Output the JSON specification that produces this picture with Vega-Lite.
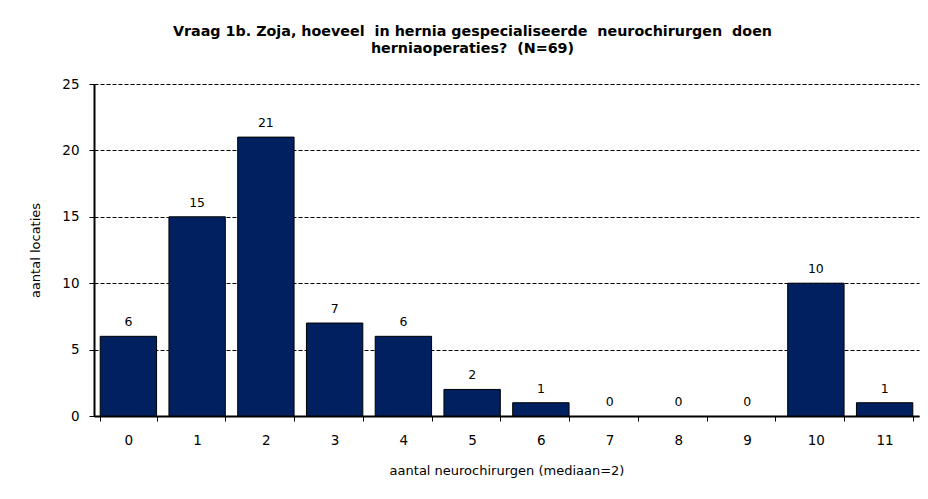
{
  "$schema": "https://vega.github.io/schema/vega-lite/v6.json",
  "width": 825,
  "height": 332,
  "autosize": {"type": "none"},
  "padding": {"left": 94, "top": 84, "right": 9, "bottom": 83},
  "background": "white",
  "title": {
    "text": ["Vraag 1b. Zoja, hoeveel \u00a0in hernia gespecialiseerde \u00a0neurochirurgen \u00a0doen", "herniaoperaties? \u00a0(N=69)"],
    "font": "DejaVu Sans",
    "fontSize": 14.3,
    "fontWeight": "bold",
    "color": "black",
    "lineHeight": 17,
    "anchor": "middle",
    "dx": -34,
    "offset": 21
  },
  "data": {
    "values": [
      {"n": "0", "count": 6},
      {"n": "1", "count": 15},
      {"n": "2", "count": 21},
      {"n": "3", "count": 7},
      {"n": "4", "count": 6},
      {"n": "5", "count": 2},
      {"n": "6", "count": 1},
      {"n": "7", "count": 0},
      {"n": "8", "count": 0},
      {"n": "9", "count": 0},
      {"n": "10", "count": 10},
      {"n": "11", "count": 1}
    ]
  },
  "encoding": {
    "x": {
      "field": "n",
      "type": "ordinal",
      "sort": null,
      "scale": {"paddingInner": 0.18, "paddingOuter": 0.09},
      "axis": {
        "title": "aantal neurochirurgen (mediaan=2)",
        "labelAngle": 0,
        "tickBand": "extent",
        "tickSize": 5,
        "tickColor": "black",
        "domainColor": "black",
        "domainWidth": 2,
        "labelPadding": 12,
        "labelFont": "DejaVu Sans",
        "labelFontSize": 13.5,
        "labelColor": "black",
        "titleFont": "DejaVu Sans",
        "titleFontSize": 13,
        "titleFontWeight": "normal",
        "titleColor": "black",
        "titlePadding": 18
      }
    },
    "y": {
      "field": "count",
      "type": "quantitative",
      "scale": {"domain": [0, 25]},
      "axis": {
        "title": "aantal locaties",
        "values": [0, 5, 10, 15, 20, 25],
        "grid": true,
        "gridColor": "black",
        "gridDash": [4, 2],
        "gridWidth": 1,
        "gridOpacity": 1,
        "tickSize": 5,
        "tickColor": "black",
        "domainColor": "black",
        "domainWidth": 2,
        "labelPadding": 10,
        "labelFont": "DejaVu Sans",
        "labelFontSize": 13.5,
        "labelColor": "black",
        "titleFont": "DejaVu Sans",
        "titleFontSize": 13,
        "titleFontWeight": "normal",
        "titleColor": "black",
        "titlePadding": 19
      }
    }
  },
  "layer": [
    {
      "mark": {"type": "bar", "color": "#002060", "stroke": "black"},
      "encoding": {
        "strokeWidth": {"condition": {"test": "datum.count === 0", "value": 0}, "value": 1}
      }
    },
    {
      "mark": {"type": "text", "dy": -10, "baseline": "alphabetic", "font": "DejaVu Sans", "fontSize": 12.5, "color": "black"},
      "encoding": {"text": {"field": "count", "type": "quantitative"}}
    }
  ],
  "config": {
    "view": {"stroke": null}
  }
}
